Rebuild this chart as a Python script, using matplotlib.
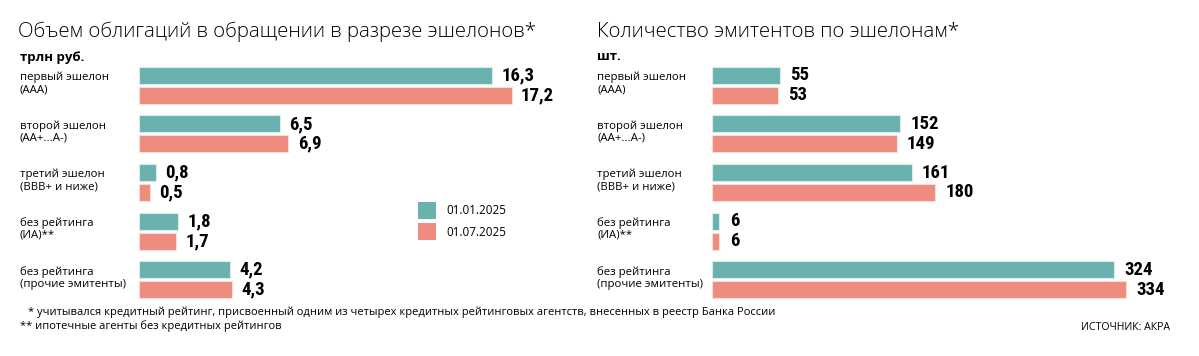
import numpy as np
import matplotlib
matplotlib.use("Agg")
import matplotlib.pyplot as plt
from matplotlib.transforms import blended_transform_factory
from matplotlib import font_manager

# data
categories = ["первый эшелон\n(ААА)", "второй эшелон\n(АА+...А-)", "третий эшелон\n(BBB+ и ниже)",
              "без рейтинга\n(ИА)**", "без рейтинга\n(прочие эмитенты)"]
volume_jan = [16.3, 6.5, 0.8, 1.8, 4.2]
volume_jul = [17.2, 6.9, 0.5, 1.7, 4.3]
issuers_jan = [55, 152, 161, 6, 324]
issuers_jul = [53, 149, 180, 6, 334]
series_names = ["01.01.2025", "01.07.2025"]

TEAL = "#6bb1ae"
SALMON = "#ee8c80"

# pick a narrow face for the value labels if there is one
names = {f.name for f in font_manager.fontManager.ttflist}
narrow = "DejaVu Sans"
for cand in ["Liberation Sans Narrow", "Roboto Condensed", "Open Sans Condensed", "DejaVu Sans Condensed"]:
    if cand in names:
        narrow = cand
        break

# light face for the titles
light_fam = "Open Sans"
for cand in ["Open Sans", "Roboto", "Lato", "Noto Sans", "Inter"]:
    if any(f.name == cand and f.weight in (200, 300, "light", "extra-light") for f in font_manager.fontManager.ttflist):
        light_fam = cand
        break

plt.rcParams['font.family'] = ['Open Sans', 'DejaVu Sans']

W, H = 1199, 356
fig = plt.figure(figsize=(W / 100, H / 100), dpi=100)


def px_axes(x0, x1, y0, y1):
    # rectangle in pixels (y from top)
    return fig.add_axes([x0 / W, 1 - y1 / H, (x1 - x0) / W, (y1 - y0) / H])


def panel(ax, jan, jul, xmax, fmt, label_x):
    n = len(categories)
    centers = np.arange(n)
    off = 0.205
    h = 0.35
    ax.barh(centers - off, jan, height=h, color=TEAL, edgecolor="#d8ecea", linewidth=0.8)
    ax.barh(centers + off, jul, height=h, color=SALMON, edgecolor="#fbdcd7", linewidth=0.8)
    ax.set_xlim(0, xmax)
    ax.set_ylim(n - 0.5, -0.5)
    ax.axis("off")
    pad = xmax * 0.022
    for c, a, b in zip(centers, jan, jul):
        ax.text(a + pad, c - off, fmt(a), va="center", ha="left", fontsize=13.5,
                fontweight="bold", family=narrow, fontstretch="condensed")
        ax.text(b + pad, c + off, fmt(b), va="center", ha="left", fontsize=13.5,
                fontweight="bold", family=narrow, fontstretch="condensed")
    tr = blended_transform_factory(fig.transFigure, ax.transData)
    for c, lab in zip(centers, categories):
        ax.text(label_x / W, c - 0.04, lab, transform=tr, va="center", ha="left",
                fontsize=8.2, linespacing=1.1)


def ru(v):
    return f"{v:.1f}".replace(".", ",")


ax1 = px_axes(139, 560, 61, 304)
panel(ax1, volume_jan, volume_jul, (560 - 139) / 21.66, ru, 20)
ax2 = px_axes(712, 1180, 61, 304)
panel(ax2, issuers_jan, issuers_jul, (1180 - 712) / 1.24, lambda v: str(v), 597)

# titles and units
title_size = 14.7 if light_fam == "Open Sans" else 15.5
fig.text(18 / W, 1 - 32 / H, "Объем облигаций в обращении в разрезе эшелонов*",
         fontsize=title_size, fontweight="light", family=light_fam, va="center", ha="left")
fig.text(20 / W, 1 - 57 / H, "трлн руб.", fontsize=9.5, fontweight="bold", va="center", ha="left")
fig.text(597 / W, 1 - 32 / H, "Количество эмитентов по эшелонам*",
         fontsize=title_size, fontweight="light", family=light_fam, va="center", ha="left")
fig.text(597 / W, 1 - 57 / H, "шт.", fontsize=9.5, fontweight="bold", va="center", ha="left")

# legend
lax = px_axes(418, 560, 200, 242)
lax.set_xlim(0, 142)
lax.set_ylim(42, 0)
lax.axis("off")
for i, (name, col) in enumerate(zip(series_names, [TEAL, SALMON])):
    lax.bar([9], [17], bottom=[2 + i * 21], width=18, color=col)
    lax.text(28, 11 + i * 21, name, va="center", ha="left", fontsize=8.4)

# footnotes
fig.text(28 / W, 1 - 312 / H,
         "* учитывался кредитный рейтинг, присвоенный одним из четырех кредитных рейтинговых агентств, внесенных в реестр Банка России",
         fontsize=8.0, va="center", ha="left")
fig.text(20 / W, 1 - 326 / H, "** ипотечные агенты без кредитных рейтингов",
         fontsize=8.0, va="center", ha="left")
fig.text(1170 / W, 1 - 327 / H, "ИСТОЧНИК: АКРА", fontsize=7.6, va="center", ha="right")

fig.savefig("out.png", dpi=100)
